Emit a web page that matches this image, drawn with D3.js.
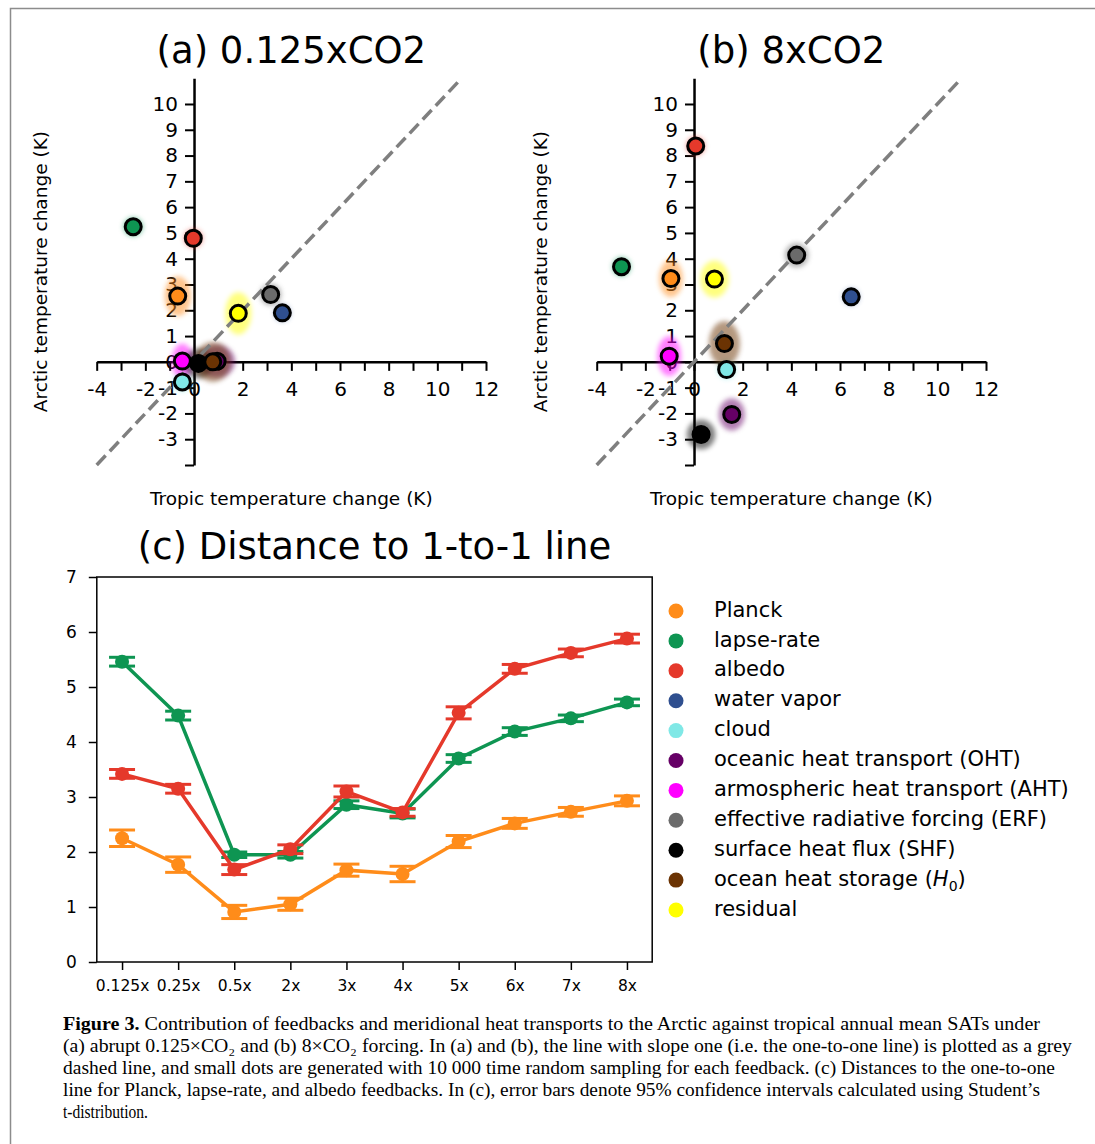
<!DOCTYPE html>
<html>
<head>
<meta charset="utf-8">
<script src="https://cdn.jsdelivr.net/npm/d3@7"></script>
<style>
	body { margin: 0; background: #fff; }
	svg { display: block; }
</style>
</head>
<body>
<div id="canvas"></div>
<script>
// feedbacks, in legend order
const feedbacks = ["Planck", "lapse-rate", "albedo", "water vapor", "cloud", "oceanic heat transport (OHT)",
	"armospheric heat transport (AHT)", "effective radiative forcing (ERF)", "surface heat flux (SHF)",
	"ocean heat storage", "residual"];
const colors = ["#ff8c1a", "#0e9552", "#e5392b", "#2f4f8f", "#80e8e6", "#660066",
	"#ff00ff", "#6b6b6b", "#000000", "#6b3303", "#ffff00"];

// (a) 0.125xCO2 : tropic (x) vs arctic (y) temperature change, K
const tropic_a = [-0.67, -2.50, -0.03, 3.63, -0.48, 0.95, -0.48, 3.15, 0.18, 0.77, 1.82];
const arctic_a = [2.55, 5.24, 4.79, 1.90, -0.78, 0.02, 0.03, 2.61, -0.06, 0.00, 1.88];
// half widths of the cloud of sampled dots, K
const spread_x_a = [0.25, 0.12, 0.10, 0.05, 0.10, 0.45, 0.15, 0.15, 0.30, 0.45, 0.25];
const spread_y_a = [0.50, 0.10, 0.10, 0.05, 0.10, 0.35, 0.40, 0.15, 0.30, 0.50, 0.55];

// (b) 8xCO2
const tropic_b = [-0.95, -2.98, 0.07, 6.46, 1.34, 1.55, -1.02, 4.22, 0.29, 1.25, 0.84];
const arctic_b = [3.23, 3.69, 8.37, 2.52, -0.30, -2.04, 0.22, 4.14, -2.82, 0.71, 3.21];
const spread_x_b = [0.20, 0.10, 0.10, 0.05, 0.10, 0.25, 0.20, 0.20, 0.30, 0.35, 0.30];
const spread_y_b = [0.45, 0.10, 0.10, 0.05, 0.10, 0.35, 0.50, 0.20, 0.30, 0.60, 0.45];

const x_ticks = d3.range(-4, 13);
const x_labels = [-4, -2, 0, 2, 4, 6, 8, 10, 12];
const y_ticks = d3.range(-4, 11);

// (c) distance to the 1-to-1 line, with 95% CI half widths
const scenarios = ["0.125x", "0.25x", "0.5x", "2x", "3x", "4x", "5x", "6x", "7x", "8x"];
const dist_planck = [2.25, 1.77, 0.91, 1.05, 1.67, 1.60, 2.19, 2.52, 2.73, 2.93];
const ci_planck = [0.15, 0.14, 0.12, 0.11, 0.11, 0.14, 0.11, 0.09, 0.08, 0.09];
const dist_lapse = [5.46, 4.48, 1.95, 1.95, 2.86, 2.70, 3.70, 4.19, 4.43, 4.72];
const ci_lapse = [0.08, 0.08, 0.05, 0.06, 0.07, 0.08, 0.07, 0.07, 0.06, 0.06];
const dist_albedo = [3.42, 3.15, 1.68, 2.05, 3.10, 2.72, 4.53, 5.33, 5.62, 5.88];
const ci_albedo = [0.08, 0.08, 0.09, 0.08, 0.10, 0.07, 0.11, 0.08, 0.07, 0.08];

const caption = [
	["Figure 3.", " Contribution of feedbacks and meridional heat transports to the Arctic against tropical annual mean SATs under", 977],
	["", "(a) abrupt 0.125×CO₂ and (b) 8×CO₂ forcing. In (a) and (b), the line with slope one (i.e. the one-to-one line) is plotted as a grey", 1009],
	["", "dashed line, and small dots are generated with 10 000 time random sampling for each feedback. (c) Distances to the one-to-one", 992],
	["", "line for Planck, lapse-rate, and albedo feedbacks. In (c), error bars denote 95% confidence intervals calculated using Student’s", 977],
	["", "t-distribution.", 85]
];

const font = "DejaVu Sans";

const svg = d3.select("#canvas").append("svg")
	.attr("width", 1095)
	.attr("height", 1144)
	.style("font-family", font);

svg.append("defs").append("filter").attr("id", "soft")
	.attr("x", "-50%").attr("y", "-50%").attr("width", "200%").attr("height", "200%")
	.append("feGaussianBlur").attr("stdDeviation", 2.5);

// page frame
svg.append("path")
	.attr("d", "M10.5,1144V8.5H1095")
	.attr("fill", "none")
	.attr("stroke", "#8c8c8c")
	.attr("stroke-width", 1.5);

const ys = d3.scaleLinear().domain([-4, 11]).range([465, 78.2]);

function scatterPanel(x0, title, tropic, arctic, sx, sy) {
	const xs = d3.scaleLinear().domain([-4, 12]).range([x0, x0 + 389.3]);
	const g = svg.append("g");

	g.append("text")
		.attr("x", (xs(-4) + xs(12)) / 2).attr("y", 63)
		.attr("text-anchor", "middle")
		.style("font-size", "37px")
		.text(title);

	const xaxis = g.append("g")
		.attr("transform", "translate(0," + ys(0) + ")")
		.call(d3.axisBottom(xs)
			.tickValues(x_ticks)
			.tickFormat(d => x_labels.includes(d) ? d : "")
			.tickSize(9)
			.tickSizeOuter(0)
			.tickPadding(11));

	const yaxis = g.append("g")
		.attr("transform", "translate(" + xs(0) + ",0)")
		.call(d3.axisLeft(ys)
			.tickValues(y_ticks)
			.tickFormat(d => d === -4 ? "" : d)
			.tickSize(9)
			.tickSizeOuter(0)
			.tickPadding(7));

	[xaxis, yaxis].forEach(a => {
		a.select(".domain").attr("stroke-width", 2.5);
		a.selectAll(".tick line").attr("stroke-width", 2);
		a.selectAll("text").style("font-size", "20px").style("font-family", font).attr("fill", "#000");
	});

	g.append("text")
		.attr("transform", "translate(" + (x0 - 50) + "," + ((ys(-4) + ys(11)) / 2) + ") rotate(-90)")
		.attr("text-anchor", "middle")
		.style("font-size", "18.5px")
		.text("Arctic temperature change (K)");

	g.append("text")
		.attr("x", (xs(-4) + xs(12)) / 2).attr("y", 505)
		.attr("text-anchor", "middle")
		.style("font-size", "18.5px")
		.text("Tropic temperature change (K)");

	// sampled dots, drawn as a soft cloud
	g.selectAll(".cloud").data(feedbacks).enter().append("ellipse")
		.attr("class", "cloud")
		.attr("cx", (d, i) => xs(tropic[i]))
		.attr("cy", (d, i) => ys(arctic[i]))
		.attr("rx", (d, i) => xs(sx[i]) - xs(0) + 7)
		.attr("ry", (d, i) => ys(0) - ys(sy[i]) + 7)
		.attr("fill", (d, i) => colors[i])
		.attr("opacity", 0.5)
		.attr("filter", "url(#soft)");

	g.append("line")
		.attr("x1", xs(-4)).attr("y1", ys(-4))
		.attr("x2", xs(11)).attr("y2", ys(11))
		.attr("stroke", "#7f7f7f")
		.attr("stroke-width", 3.5)
		.attr("stroke-dasharray", "13,6");

	g.selectAll(".mark").data(feedbacks).enter().append("circle")
		.attr("class", "mark")
		.attr("cx", (d, i) => xs(tropic[i]))
		.attr("cy", (d, i) => ys(arctic[i]))
		.attr("r", 8)
		.attr("fill", (d, i) => colors[i])
		.attr("stroke", "#000")
		.attr("stroke-width", 3);
}

scatterPanel(96.7, "(a) 0.125xCO2", tropic_a, arctic_a, spread_x_a, spread_y_a);
scatterPanel(596.7, "(b) 8xCO2", tropic_b, arctic_b, spread_x_b, spread_y_b);

// (c)
const xc = d3.scalePoint().domain(scenarios).range([96.8, 652.2]).padding(0.45);
const yc = d3.scaleLinear().domain([0, 7]).range([962, 577]);

svg.append("text")
	.attr("x", (xc.range()[0] + xc.range()[1]) / 2).attr("y", 559)
	.attr("text-anchor", "middle")
	.style("font-size", "37px")
	.text("(c) Distance to 1-to-1 line");

const cx_axis = svg.append("g")
	.attr("transform", "translate(0,962)")
	.call(d3.axisBottom(xc).tickSize(8).tickSizeOuter(0).tickPadding(10));
const cy_axis = svg.append("g")
	.attr("transform", "translate(96.8,0)")
	.call(d3.axisLeft(yc).ticks(7).tickSize(8).tickSizeOuter(0).tickPadding(12));
cx_axis.selectAll("text").style("font-size", "15.5px");
cy_axis.selectAll("text").style("font-size", "17px");
[cx_axis, cy_axis].forEach(a => {
	a.select(".domain").remove();
	a.selectAll(".tick line").attr("stroke-width", 1.5);
	a.selectAll("text").style("font-family", font).attr("fill", "#000");
});

svg.append("rect")
	.attr("x", 96.8).attr("y", 577)
	.attr("width", 652.2 - 96.8).attr("height", 962 - 577)
	.attr("fill", "none")
	.attr("stroke", "#000")
	.attr("stroke-width", 1.5);

const series = [
	{ values: dist_planck, ci: ci_planck, color: colors[0] },
	{ values: dist_lapse, ci: ci_lapse, color: colors[1] },
	{ values: dist_albedo, ci: ci_albedo, color: colors[2] }
];

series.forEach(s => {
	const data = scenarios.map((c, i) => ({ cat: c, v: s.values[i], e: s.ci[i] }));
	const g = svg.append("g");
	g.append("path")
		.datum(data)
		.attr("fill", "none")
		.attr("stroke", s.color)
		.attr("stroke-width", 3.5)
		.attr("d", d3.line().x(d => xc(d.cat)).y(d => yc(d.v)));
	const bars = g.selectAll(".err").data(data).enter().append("g");
	bars.append("line")
		.attr("x1", d => xc(d.cat)).attr("x2", d => xc(d.cat))
		.attr("y1", d => yc(d.v - d.e)).attr("y2", d => yc(d.v + d.e))
		.attr("stroke", s.color).attr("stroke-width", 3);
	[-1, 1].forEach(k => {
		bars.append("line")
			.attr("x1", d => xc(d.cat) - 13).attr("x2", d => xc(d.cat) + 13)
			.attr("y1", d => yc(d.v + k * d.e)).attr("y2", d => yc(d.v + k * d.e))
			.attr("stroke", s.color).attr("stroke-width", 3);
	});
	bars.append("circle")
		.attr("cx", d => xc(d.cat)).attr("cy", d => yc(d.v))
		.attr("r", 7)
		.attr("fill", s.color);
});

// legend
const legend = svg.append("g").selectAll("g").data(feedbacks).enter().append("g")
	.attr("transform", (d, i) => "translate(676," + (611 + i * 29.9) + ")");
legend.append("circle")
	.attr("r", 7.5)
	.attr("fill", (d, i) => colors[i]);
const ltext = legend.append("text")
	.attr("x", 38)
	.attr("dy", "0.27em")
	.style("font-size", "21px")
	.text(d => d);
ltext.filter(d => d === "ocean heat storage").each(function() {
	const t = d3.select(this);
	t.append("tspan").text(" (");
	t.append("tspan").style("font-style", "italic").text("H");
	t.append("tspan").attr("dy", 5).style("font-size", "14px").text("0");
	t.append("tspan").attr("dy", -5).text(")");
});

// caption
const cap = svg.append("g")
	.style("font-family", "Liberation Serif")
	.style("font-size", "18.5px");
caption.forEach((c, i) => {
	const t = cap.append("text")
		.attr("x", 63)
		.attr("y", 1030 + i * 22);
	t.attr("textLength", c[2]).attr("lengthAdjust", "spacingAndGlyphs");
	if (c[0]) t.append("tspan").style("font-weight", "bold").text(c[0]);
	t.append("tspan").text(c[1]);
});
</script>
</body>
</html>
